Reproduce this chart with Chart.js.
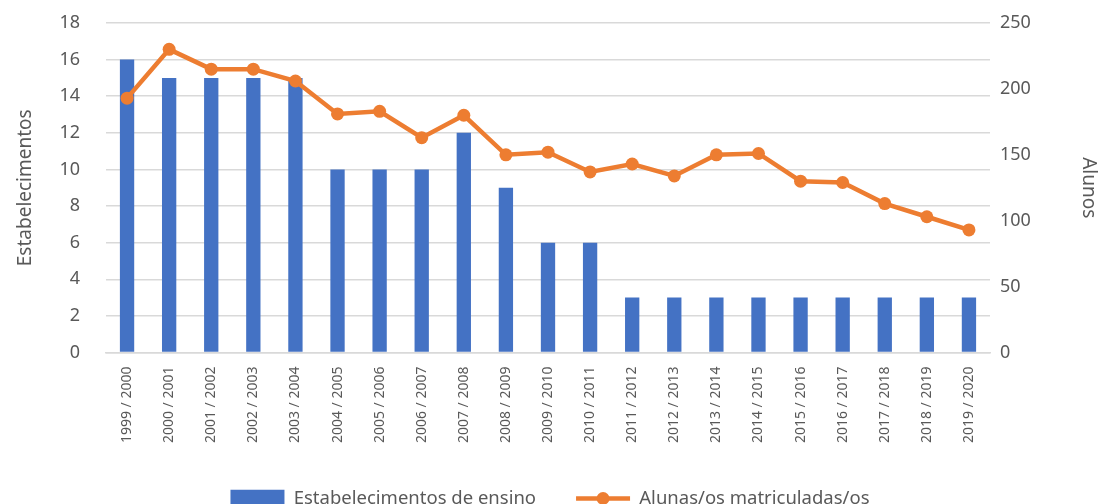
<!DOCTYPE html>
<html>
<head>
<meta charset="utf-8">
<script src="https://cdn.jsdelivr.net/npm/chart.js@4"></script>
<style>
    html, body { margin: 0; padding: 0; background: #fff; overflow: hidden; }
    #wrap { width: 1100px; height: 518px; }
</style>
</head>
<body>
<div id="wrap"><canvas id="chart" width="1100" height="518"></canvas></div>
<script>
    // ─── DATA ────────────────────────────────────────────────────────────────
    const anos = ['1999 / 2000','2000 / 2001','2001 / 2002','2002 / 2003','2003 / 2004','2004 / 2005',
        '2005 / 2006','2006 / 2007','2007 / 2008','2008 / 2009','2009 / 2010','2010 / 2011',
        '2011 / 2012','2012 / 2013','2013 / 2014','2014 / 2015','2015 / 2016','2016 / 2017',
        '2017 / 2018','2018 / 2019','2019 / 2020'];
    const estabelecimentos = [16, 15, 15, 15, 15, 10, 10, 10, 12, 9, 6, 6, 3, 3, 3, 3, 3, 3, 3, 3, 3];
    const alunos = [193, 230, 215, 215, 206, 181, 183, 163, 180, 150, 152, 137, 143, 134, 150, 151, 130, 129, 113, 103, 93];
    const ticksEstab = [0, 2, 4, 6, 8, 10, 12, 14, 16, 18];
    const ticksAlunos = [0, 50, 100, 150, 200, 250];

    const BLUE = '#4472c4', ORANGE = '#ed7d31', GREY = '#595959', GRID = '#d9d9d9';
    const FONT = "'Noto Sans', 'Open Sans', sans-serif";

    // legenda da linha: traço + círculo
    const lineLegend = {
        id: 'lineLegend',
        afterDraw(chart) {
            const lg = chart.legend;
            if (!lg || !lg.legendHitBoxes) return;
            const box = lg.legendHitBoxes[1];
            const ctx = chart.ctx;
            const cy = box.top + 9, x0 = box.left, x1 = box.left + 54;
            ctx.save();
            ctx.strokeStyle = ORANGE; ctx.lineWidth = 4.5;
            ctx.beginPath(); ctx.moveTo(x0, cy); ctx.lineTo(x1, cy); ctx.stroke();
            ctx.fillStyle = ORANGE;
            ctx.beginPath(); ctx.arc((x0 + x1) / 2, cy, 6.5, 0, Math.PI * 2); ctx.fill();
            ctx.restore();
        }
    };

    new Chart(document.getElementById('chart'), {
        data: {
            labels: anos,
            datasets: [
                { type: 'line', label: 'Alunas/os matriculadas/os', data: alunos, yAxisID: 'y2',
                  borderColor: ORANGE, backgroundColor: ORANGE, borderWidth: 4.5,
                  pointRadius: 6.5, pointBackgroundColor: ORANGE, pointBorderWidth: 0, tension: 0, order: 0 },
                { type: 'bar', label: 'Estabelecimentos de ensino', data: estabelecimentos, yAxisID: 'y',
                  backgroundColor: BLUE, barPercentage: 0.34, categoryPercentage: 1, order: 1 }
            ]
        },
        options: {
            responsive: false, animation: false,
            layout: { padding: { top: 23, left: 0, right: 0, bottom: 0 } },
            plugins: {
                tooltip: { enabled: false },
                legend: {
                    position: 'bottom', reverse: true,
                    labels: {
                        color: GREY, font: { family: FONT, size: 18.5 }, boxWidth: 54, boxHeight: 18, padding: 40,
                        generateLabels(chart) {
                            const items = Chart.defaults.plugins.legend.labels.generateLabels(chart);
                            items.forEach(it => {
                                if (it.datasetIndex === 0) { it.fillStyle = 'rgba(0,0,0,0)'; it.strokeStyle = 'rgba(0,0,0,0)'; }
                                it.lineWidth = 0;
                            });
                            return items;
                        }
                    }
                }
            },
            scales: {
                x: {
                    grid: { display: false },
                    border: { display: true, color: GRID, width: 1.5 },
                    ticks: { color: GREY, font: { family: FONT, size: 14 }, maxRotation: 90, minRotation: 90, padding: 6, autoSkip: false },
                    afterFit(s) { s.height = 97; }
                },
                y: {
                    position: 'left', min: 0, max: 18,
                    afterBuildTicks(s) { s.ticks = ticksEstab.map(v => ({ value: v })); },
                    grid: { color: GRID, lineWidth: 1.5, drawTicks: true, tickLength: 24, tickColor: 'rgba(0,0,0,0)' },
                    border: { display: false },
                    ticks: { color: GREY, font: { family: FONT, size: 18 }, padding: 2 },
                    title: { display: true, text: 'Estabelecimentos', color: GREY, font: { family: FONT, size: 19 }, padding: { top: 14, bottom: 0 } },
                    afterFit(s) { s.width = 106; }
                },
                y2: {
                    position: 'right', min: 0, max: 250,
                    afterBuildTicks(s) { s.ticks = ticksAlunos.map(v => ({ value: v })); },
                    grid: { display: false },
                    border: { display: false },
                    ticks: { color: GREY, font: { family: FONT, size: 18 }, padding: 2 },
                    title: { display: true, text: 'Alunos', color: GREY, font: { family: FONT, size: 19 }, padding: { top: 0, bottom: 0 } },
                    afterFit(s) { s.width = 110; }
                }
            }
        },
        plugins: [lineLegend]
    });
</script>
</body>
</html>
